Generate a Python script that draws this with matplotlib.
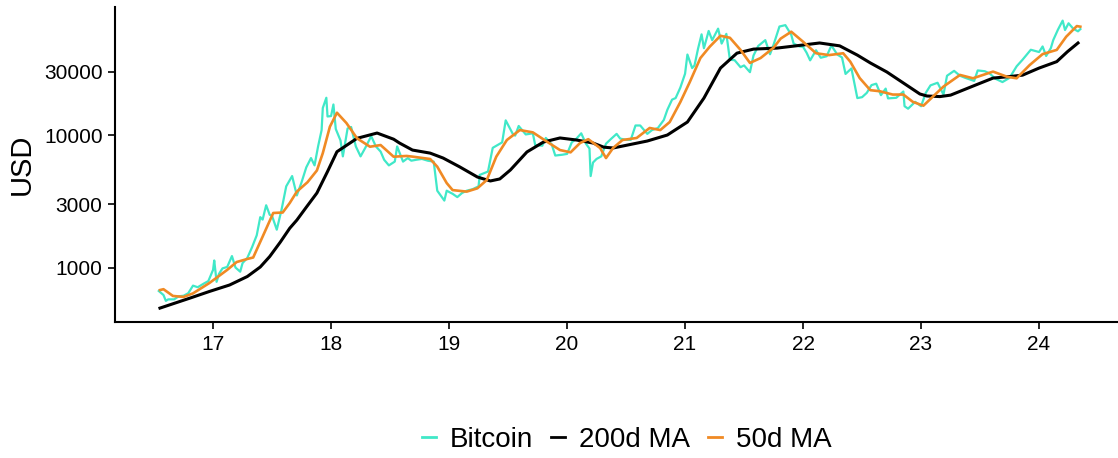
import numpy as np
import matplotlib
matplotlib.use("Agg")
import matplotlib.pyplot as plt

plt.rcParams['font.family'] = ['Liberation Sans', 'DejaVu Sans']

# (year, USD); year shown as two digits (17 = 2017)
btc = [
    (16.54, 665), (16.58, 620), (16.60, 560), (16.62, 575), (16.67, 575), (16.71, 607),
    (16.75, 612), (16.79, 640), (16.83, 730), (16.87, 710), (16.92, 755), (16.96, 790),
    (17.00, 960), (17.01, 1130), (17.03, 780), (17.05, 895), (17.08, 985), (17.12, 1010),
    (17.16, 1220), (17.19, 1000), (17.23, 930), (17.25, 1080), (17.29, 1180), (17.33, 1420),
    (17.37, 1750), (17.40, 2400), (17.42, 2300), (17.45, 2950), (17.48, 2500), (17.50, 2450),
    (17.54, 1930), (17.58, 2720), (17.62, 4100), (17.67, 4900), (17.71, 3500), (17.75, 4400),
    (17.79, 5700), (17.83, 6700), (17.86, 5900), (17.89, 8200), (17.92, 10900), (17.93, 16000),
    (17.96, 19100), (17.97, 13800), (18.00, 13900), (18.02, 17000), (18.04, 11100), (18.08, 9100),
    (18.10, 6900), (18.14, 11200), (18.17, 11500), (18.21, 8200), (18.25, 6900), (18.29, 8000),
    (18.34, 9800), (18.38, 8200), (18.42, 7500), (18.45, 6500), (18.49, 5900), (18.54, 6300),
    (18.56, 8200), (18.61, 6300), (18.65, 6700), (18.68, 6400), (18.72, 6500), (18.77, 6600),
    (18.82, 6400), (18.87, 6300), (18.89, 4500), (18.90, 3800), (18.96, 3200), (18.98, 3800),
    (19.03, 3600), (19.07, 3400), (19.11, 3650), (19.15, 3800), (19.20, 3900), (19.25, 4100),
    (19.26, 5000), (19.33, 5300), (19.37, 8000), (19.42, 8500), (19.45, 8800), (19.48, 12900),
    (19.54, 10200), (19.56, 9900), (19.59, 11700), (19.65, 10100), (19.71, 10300), (19.73, 8400),
    (19.79, 8300), (19.82, 9500), (19.87, 8500), (19.90, 7000), (19.96, 7100), (20.00, 7200),
    (20.04, 8800), (20.08, 9400), (20.12, 10300), (20.16, 8600), (20.19, 7900), (20.20, 4900),
    (20.22, 6200), (20.25, 6600), (20.29, 6900), (20.33, 8600), (20.37, 9300), (20.42, 10200),
    (20.45, 9400), (20.50, 9200), (20.54, 9200), (20.58, 11800), (20.62, 11800), (20.68, 10200),
    (20.72, 10900), (20.77, 11300), (20.82, 13000), (20.85, 15500), (20.89, 18500), (20.92, 19000),
    (20.96, 22800), (21.00, 29000), (21.02, 40500), (21.06, 32000), (21.08, 33500), (21.11, 44800),
    (21.14, 57500), (21.16, 45200), (21.20, 61000), (21.23, 52000), (21.28, 63500), (21.31, 49000),
    (21.35, 58000), (21.38, 37000), (21.42, 36700), (21.47, 32500), (21.50, 33500), (21.55, 29800),
    (21.58, 39800), (21.62, 47000), (21.68, 52000), (21.72, 40700), (21.75, 48000), (21.80, 65900),
    (21.85, 67500), (21.90, 57000), (21.92, 49000), (21.97, 46600), (22.00, 46300), (22.03, 41800),
    (22.06, 36600), (22.11, 43600), (22.15, 38300), (22.20, 39300), (22.24, 47400), (22.29, 40500),
    (22.33, 38500), (22.36, 28900), (22.41, 31800), (22.46, 19000), (22.50, 19300), (22.54, 20800),
    (22.58, 23800), (22.62, 24400), (22.66, 20000), (22.70, 22400), (22.72, 18900), (22.79, 19100),
    (22.85, 21300), (22.86, 16500), (22.89, 15800), (22.95, 17800), (23.00, 16500), (23.04, 20800),
    (23.08, 23700), (23.14, 24800), (23.19, 20200), (23.22, 28000), (23.28, 30500), (23.33, 28000),
    (23.37, 27100), (23.45, 25600), (23.48, 30700), (23.54, 30300), (23.58, 29200), (23.63, 26600),
    (23.69, 25100), (23.75, 27000), (23.81, 33000), (23.86, 37000), (23.93, 44000), (24.00, 42300),
    (24.03, 46600), (24.06, 39500), (24.10, 45300), (24.12, 52000), (24.16, 62400), (24.20, 73000),
    (24.22, 62000), (24.25, 69700), (24.29, 63400), (24.33, 60600), (24.35, 63000),
]

ma200 = [
    (16.55, 494), (16.81, 590), (16.97, 660), (17.14, 738), (17.29, 855), (17.40, 1009),
    (17.48, 1210), (17.57, 1556), (17.65, 1980), (17.71, 2280), (17.79, 2850), (17.88, 3650),
    (17.97, 5300), (18.05, 7480), (18.22, 9440), (18.39, 10350), (18.53, 9300), (18.58, 8700),
    (18.69, 7700), (18.84, 7300), (18.95, 6700), (19.09, 5750), (19.24, 4820), (19.35, 4500),
    (19.43, 4660), (19.52, 5450), (19.66, 7450), (19.80, 8850), (19.94, 9500), (20.08, 9170),
    (20.22, 8700), (20.31, 8100), (20.39, 7980), (20.68, 9010), (20.85, 10000), (21.02, 12530),
    (21.16, 19000), (21.30, 32000), (21.44, 41500), (21.58, 44500), (21.78, 45300), (22.00, 47800),
    (22.14, 49500), (22.31, 47100), (22.46, 40100), (22.57, 35000), (22.71, 29900), (22.85, 24700),
    (22.99, 20400), (23.05, 19700), (23.16, 19500), (23.25, 20000), (23.44, 23400), (23.61, 26900),
    (23.73, 27500), (23.86, 28300), (24.00, 32000), (24.15, 35800), (24.24, 42500), (24.33, 49500),
]

ma50 = [
    (16.55, 676), (16.58, 686), (16.66, 610), (16.75, 600), (16.83, 638), (16.97, 765),
    (17.12, 960), (17.20, 1100), (17.29, 1160), (17.34, 1190), (17.42, 1710), (17.51, 2580),
    (17.59, 2600), (17.65, 3070), (17.71, 3740), (17.80, 4400), (17.88, 5400), (17.93, 7300),
    (17.99, 11550), (18.05, 14730), (18.13, 12320), (18.22, 9440), (18.33, 8160), (18.42, 8400),
    (18.53, 6860), (18.64, 6950), (18.69, 6870), (18.84, 6590), (18.90, 5770), (18.98, 4340),
    (19.03, 3840), (19.15, 3740), (19.24, 3960), (19.32, 4580), (19.40, 6860), (19.49, 9170),
    (19.60, 10900), (19.71, 10470), (19.83, 8900), (19.94, 7700), (20.03, 7400), (20.11, 8700),
    (20.18, 9300), (20.28, 7980), (20.33, 6700), (20.39, 7980), (20.47, 9170), (20.59, 9500),
    (20.70, 11300), (20.79, 10900), (20.87, 12530), (20.96, 17730), (21.04, 25100), (21.13, 38100),
    (21.21, 46500), (21.30, 56100), (21.38, 54200), (21.47, 43900), (21.55, 35000), (21.64, 38100),
    (21.75, 45600), (21.81, 53400), (21.90, 60200), (22.00, 50600), (22.11, 41400), (22.22, 40100),
    (22.34, 41400), (22.40, 35800), (22.48, 26900), (22.57, 21800), (22.65, 21400), (22.76, 20200),
    (22.85, 20200), (22.93, 17800), (23.02, 16650), (23.10, 19480), (23.19, 23200), (23.33, 28400),
    (23.44, 26800), (23.61, 30100), (23.73, 27500), (23.81, 26800), (23.92, 33700), (24.03, 40800),
    (24.15, 43900), (24.23, 55200), (24.32, 66400), (24.35, 65700),
]

year_ticks = [17, 18, 19, 20, 21, 22, 23, 24]
usd_ticks = [1000, 3000, 10000, 30000]

W, H = 1118, 458
fig = plt.figure(figsize=(W / 100, H / 100), dpi=100)
ax = fig.add_axes([115 / W, 136 / H, (W - 115) / W, 315 / H])

bx, by = zip(*btc)
mx2, my2 = zip(*ma200)
mx5, my5 = zip(*ma50)

ax.plot(bx, by, color='#40E8C8', lw=1.6, label='Bitcoin')
ax.plot(mx2, my2, color='black', lw=2.2, label='200d MA')
ax.plot(mx5, my5, color='#F08A24', lw=1.9, label='50d MA')

ax.set_yscale('log')
ax.set_xlim(16.169, 24.669)
ax.set_ylim(388, 92500)
ax.set_xticks(year_ticks)
ax.set_xticklabels([str(t) for t in year_ticks])
ax.set_yticks(usd_ticks)
ax.set_yticklabels([str(v) for v in usd_ticks])
ax.yaxis.set_minor_locator(matplotlib.ticker.NullLocator())
ax.tick_params(axis='both', labelsize=15, length=5, width=1.2, color='black', pad=4)
ax.set_ylabel('USD', fontsize=21, labelpad=6)

for side in ['top', 'right']:
    ax.spines[side].set_visible(False)
for side in ['left', 'bottom']:
    ax.spines[side].set_linewidth(1.5)

leg = fig.legend(loc='center', bbox_to_anchor=(627 / W, 1 - 440 / H), ncol=3,
                 frameon=False, fontsize=20, handlelength=0.5, handletextpad=0.5,
                 columnspacing=0.65)
for line in leg.get_lines():
    line.set_linewidth(2)

fig.savefig('out.png', dpi=100)
